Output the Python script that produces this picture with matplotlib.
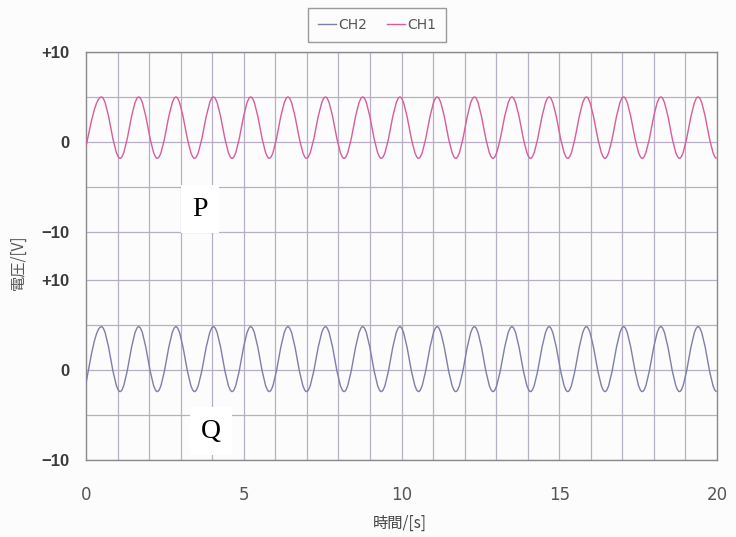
import matplotlib
matplotlib.use("Agg")
import matplotlib.pyplot as plt
from matplotlib.lines import Line2D
from matplotlib.patches import PathPatch
from matplotlib.path import Path

# extrema (time [s], voltage [V]); first point is t=0
ch1_t = [0.00, 0.49, 1.08, 1.67, 2.26, 2.85, 3.44, 4.04, 4.63, 5.22, 5.81,
         6.40, 6.99, 7.59, 8.18, 8.77, 9.36, 9.95, 10.54, 11.13, 11.72,
         12.31, 12.90, 13.50, 14.09, 14.68, 15.27, 15.86, 16.45, 17.04,
         17.63, 18.22, 18.81, 19.40, 19.99]
ch1_v = [-0.5, 5.0, -1.8, 5.0, -1.8, 5.0, -1.8, 5.0, -1.8, 5.0, -1.8,
         5.0, -1.8, 5.0, -1.8, 5.0, -1.8, 5.0, -1.8, 5.0, -1.8,
         5.0, -1.8, 5.0, -1.8, 5.0, -1.8, 5.0, -1.8, 5.0,
         -1.8, 5.0, -1.8, 5.0, -1.8]

ch2_t = ch1_t
ch2_v = [-1.5, 4.8, -2.4, 4.8, -2.4, 4.8, -2.4, 4.8, -2.4, 4.8, -2.4,
         4.8, -2.4, 4.8, -2.4, 4.8, -2.4, 4.8, -2.4, 4.8, -2.4,
         4.8, -2.4, 4.8, -2.4, 4.8, -2.4, 4.8, -2.4, 4.8,
         -2.4, 4.8, -2.4, 4.8, -2.4]

x_ticks = [0, 5, 10, 15, 20]
y_tick_vals = [-10, 0, 10]
y_tick_text = ["\u221210", "0", "+10"]

TOP_SHIFT = 25.3          # offset of the upper (CH1) panel on the shared axis
K = 0.364                 # bezier handle for a half sine

PINK = "#d85c9c"
BLUE = "#7e7eaa"
GRID = "#b7afc4"
FRAME = "#8a8a8a"
CJK = ["Noto Sans CJK JP", "DejaVu Sans"]


def wave_path(ts, vs, shift):
    verts = [(ts[0], vs[0] + shift)]
    codes = [Path.MOVETO]
    for i in range(len(ts) - 1):
        t0, t1 = ts[i], ts[i + 1]
        v0, v1 = vs[i] + shift, vs[i + 1] + shift
        dt = t1 - t0
        if i == 0:
            c1 = (t0 + dt / 3, v0 + (v1 - v0) / 2)
        else:
            c1 = (t0 + K * dt, v0)
        c2 = (t1 - K * dt, v1)
        verts += [c1, c2, (t1, v1)]
        codes += [Path.CURVE4] * 3
    return Path(verts, codes)


fig = plt.figure(figsize=(7.36, 5.37), dpi=100)
fig.patch.set_facecolor("#fcfcfc")
ax = fig.add_axes([86 / 736, 1 - 460 / 537, (717 - 86) / 736, (460 - 52) / 537])
ax.set_facecolor("#fcfcfc")
ax.set_xlim(0, 20)
ax.set_ylim(-10, 10 + TOP_SHIFT)

# grid: 1 s vertical, 5 V horizontal in each panel
for t in range(1, 20):
    ax.axvline(t, color=GRID, lw=0.9, zorder=1)
for shift in (0, TOP_SHIFT):
    for v in (-10, -5, 0, 5, 10):
        ax.axhline(v + shift, color=GRID, lw=0.9, zorder=1)

ax.add_patch(PathPatch(wave_path(ch1_t, ch1_v, TOP_SHIFT), facecolor="none",
                       edgecolor=PINK, lw=1.0, zorder=3))
ax.add_patch(PathPatch(wave_path(ch2_t, ch2_v, 0), facecolor="none",
                       edgecolor=BLUE, lw=1.0, zorder=3))

for s in ax.spines.values():
    s.set_color(FRAME)
    s.set_linewidth(1.0)

ax.set_xticks(x_ticks)
ax.set_xticklabels([str(x) for x in x_ticks], fontsize=12, color="#555555",
                   family=["Liberation Sans Narrow", "DejaVu Sans"])
ax.set_yticks(y_tick_vals + [v + TOP_SHIFT for v in y_tick_vals])
ax.set_yticklabels(y_tick_text * 2, fontsize=12, fontweight="bold",
                   color="#3a3a3a", family=["Liberation Sans", "DejaVu Sans"])
ax.tick_params(axis="both", length=0)
ax.tick_params(axis="y", pad=12)
ax.tick_params(axis="x", pad=19)

fig.text(400 / 736, 1 - 523 / 537, "時間/[s]", ha="center", va="center",
         fontsize=11, color="#444444", family=CJK)
fig.text(18 / 736, 1 - 262 / 537, "電圧/[V]", ha="center", va="center",
         rotation=90, fontsize=11, color="#555555", family=CJK)

handles = [Line2D([], [], color=BLUE, lw=1.0), Line2D([], [], color=PINK, lw=1.0)]
leg = fig.legend(handles, ["CH2", "CH1"], loc="center", ncol=2,
                 bbox_to_anchor=(377 / 736, 1 - 25 / 537),
                 handlelength=1.3, handletextpad=0.2, columnspacing=1.4,
                 borderpad=0.7, borderaxespad=0, fancybox=False, framealpha=1,
                 prop={"family": ["Liberation Sans Narrow", "DejaVu Sans"], "size": 10})
leg.get_frame().set_edgecolor("#9a9a9a")
leg.get_frame().set_linewidth(1.0)
leg.get_frame().set_facecolor("#fcfcfc")
for txt in leg.get_texts():
    txt.set_color("#555555")

for label, x, y in (("P", 200, 209), ("Q", 211, 431)):
    fig.text(x / 736, 1 - y / 537, label, ha="center", va="center",
             fontsize=20, family=["Liberation Serif", "DejaVu Serif"],
             color="black",
             bbox=dict(facecolor="white", edgecolor="none", pad=8))

fig.savefig("out.png", dpi=100)
